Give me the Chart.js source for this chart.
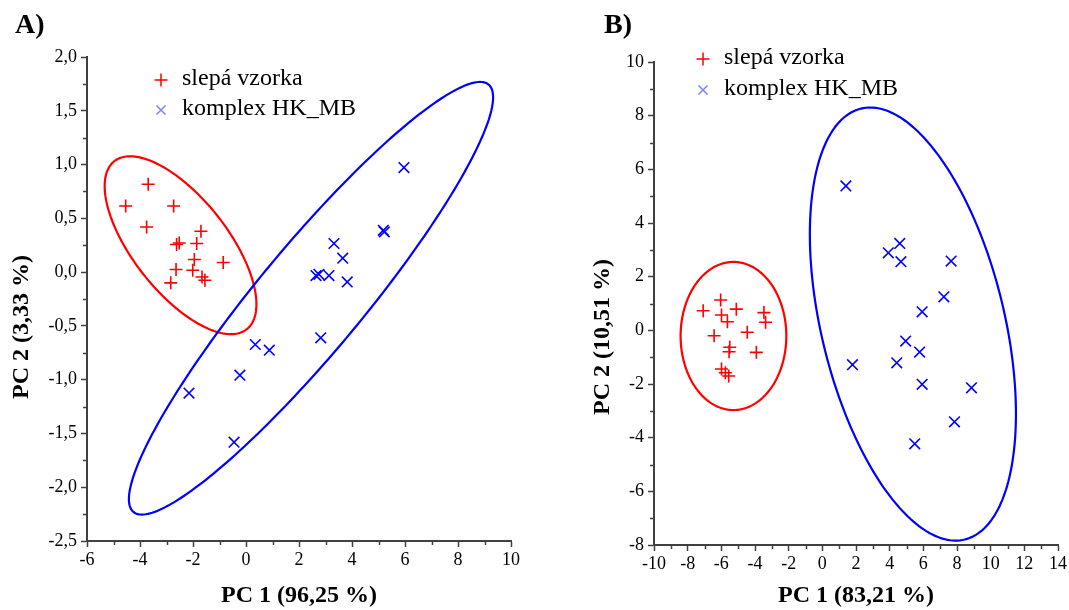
<!DOCTYPE html>
<html>
<head>
<meta charset="utf-8">
<script src="https://cdn.jsdelivr.net/npm/chart.js@4.4.1/dist/chart.umd.min.js"></script>
<style>
  html, body { margin: 0; padding: 0; background: #fff; }
  #wrap { position: relative; width: 1069px; height: 610px; overflow: hidden; }
  .panel { position: absolute; top: 0; height: 610px; }
  .lab { position: absolute; top: 8px; font: bold 28px "Liberation Serif", serif; color: #000; }
</style>
</head>
<body>
<div id="wrap">
  <div class="panel" style="left:0;width:535px"><canvas id="cA" width="535" height="610"></canvas></div>
  <div class="panel" style="left:535px;width:534px"><canvas id="cB" width="534" height="610"></canvas></div>
  <div class="lab" style="left:15px">A)</div>
  <div class="lab" style="left:604px">B)</div>
</div>
<script>
// ---------- data ----------
const seriesNames = ['slepá vzorka', 'komplex HK_MB'];

// Panel A
const slepaA_x = [-3.69, -4.54, -2.73, -3.75, -1.70, -2.62, -2.52, -1.86, -1.95, -0.86, -2.64, -2.01, -1.66, -1.55, -2.84];
const slepaA_y = [0.817, 0.615, 0.615, 0.420, 0.380, 0.257, 0.271, 0.266, 0.117, 0.089, 0.024, 0.018, -0.045, -0.075, -0.100];
const komplexA_x = [5.96, 5.18, 5.22, 3.32, 3.65, 2.64, 2.75, 3.13, 3.82, 2.82, 0.35, 0.88, -0.23, -2.15, -0.45];
const komplexA_y = [0.972, 0.389, 0.374, 0.266, 0.129, -0.032, -0.020, -0.032, -0.091, -0.611, -0.673, -0.726, -0.958, -1.125, -1.581];

// Panel B
const slepaB_x = [-6.04, -7.08, -5.11, -5.99, -5.64, -3.47, -3.37, -6.43, -4.46, -5.50, -5.54, -3.92, -5.99, -5.76, -5.56];
const slepaB_y = [1.13, 0.73, 0.79, 0.57, 0.32, 0.66, 0.30, -0.20, -0.07, -0.63, -0.80, -0.82, -1.44, -1.58, -1.70];
const komplexB_x = [1.40, 4.60, 3.92, 4.67, 7.65, 7.22, 5.93, 4.95, 5.78, 1.79, 4.42, 5.93, 8.86, 7.85, 5.49];
const komplexB_y = [5.38, 3.24, 2.89, 2.56, 2.58, 1.25, 0.69, -0.40, -0.81, -1.28, -1.21, -2.01, -2.14, -3.41, -4.23];

// Confidence ellipses in data units: [centerX, centerY, axis1X, axis1Y, axis2X, axis2Y]
const ellipseSlepaA   = [-2.47, 0.250, 2.50, -0.781, -1.396, -0.272];
const ellipseKomplexA = [2.453, -0.243, 6.70, 1.987, 1.528, -0.312];
const ellipseSlepaB   = [-5.28, -0.21, 3.14, 0, 0, 2.76];
const ellipseKomplexB = [5.38, 0.235, 3.08, -8.03, -5.29, -0.805];

// Axis ranges and major tick values
const xRangeA = [-6, 10], yRangeA = [-2.5, 2.0];
const xRangeB = [-10, 14], yRangeB = [-8, 10];
const xMajorA = [-6, -4, -2, 0, 2, 4, 6, 8, 10];
const yMajorA = [-2.5, -2.0, -1.5, -1.0, -0.5, 0.0, 0.5, 1.0, 1.5, 2.0];
const xMajorB = [-10, -8, -6, -4, -2, 0, 2, 4, 6, 8, 10, 12, 14];
const yMajorB = [-8, -6, -4, -2, 0, 2, 4, 6, 8, 10];
const xTitleA = 'PC 1 (96,25 %)', yTitleA = 'PC 2 (3,33 %)';
const xTitleB = 'PC 1 (83,21 %)', yTitleB = 'PC 2 (10,51 %)';

// ---------- rendering ----------
const RED = '#ff0000', BLUE = '#0000ff', AXIS = '#404040';
const SERIF = '"Liberation Serif", "Times New Roman", serif';
Chart.defaults.font.family = SERIF;
Chart.defaults.color = '#000';

function toPoints(xs, ys) { return xs.map((x, i) => ({ x: x, y: ys[i] })); }
function isIn(list, v) { return list.some(m => Math.abs(m - v) < 1e-6); }

const minorTicks = {
  id: 'minorTicks',
  afterDraw(chart) {
    const ctx = chart.ctx;
    ctx.save();
    ctx.strokeStyle = AXIS; ctx.lineWidth = 1.5;
    const xs = chart.scales.x, ys = chart.scales.y;
    const mx = chart.options.plugins.minorTicks;
    xs.ticks.forEach(t => {
      if (isIn(mx.xMajor, t.value)) return;
      const p = Math.round(xs.getPixelForValue(t.value)) + 0.5;
      ctx.beginPath(); ctx.moveTo(p, xs.top); ctx.lineTo(p, xs.top + 4); ctx.stroke();
    });
    ys.ticks.forEach(t => {
      if (isIn(mx.yMajor, t.value)) return;
      const p = Math.round(ys.getPixelForValue(t.value)) + 0.5;
      ctx.beginPath(); ctx.moveTo(ys.right, p); ctx.lineTo(ys.right - 4, p); ctx.stroke();
    });
    ctx.restore();
  }
};

const ellipses = {
  id: 'ellipses',
  beforeDatasetsDraw(chart) {
    const ctx = chart.ctx, xs = chart.scales.x, ys = chart.scales.y;
    const list = chart.options.plugins.ellipses.list;
    ctx.save();
    ctx.lineWidth = 2.2;
    list.forEach(e => {
      const [cx, cy, ux, uy, vx, vy] = e.p;
      ctx.strokeStyle = e.color;
      ctx.beginPath();
      const N = 240;
      for (let i = 0; i <= N; i++) {
        const t = 2 * Math.PI * i / N;
        const px = xs.getPixelForValue(cx + ux * Math.cos(t) + vx * Math.sin(t));
        const py = ys.getPixelForValue(cy + uy * Math.cos(t) + vy * Math.sin(t));
        if (i === 0) ctx.moveTo(px, py); else ctx.lineTo(px, py);
      }
      ctx.closePath();
      ctx.stroke();
    });
    ctx.restore();
  }
};

const customText = {
  id: 'customText',
  afterDraw(chart) {
    const o = chart.options.plugins.customText;
    const ctx = chart.ctx;
    ctx.save();
    // rotated y title
    ctx.font = 'bold 24px ' + SERIF;
    ctx.fillStyle = '#000';
    ctx.textAlign = 'center'; ctx.textBaseline = 'middle';
    ctx.translate(o.yTitleX, o.yTitleY);
    ctx.rotate(-Math.PI / 2);
    ctx.fillText(o.yTitle, 0, 0);
    ctx.setTransform(1, 0, 0, 1, 0, 0);
    // legend
    ctx.font = '24px ' + SERIF;
    ctx.textAlign = 'left';
    chart.data.datasets.forEach((ds, i) => {
      const y = o.legY + i * o.legGap;
      ctx.strokeStyle = i === 0 ? RED : '#8080ff';
      ctx.lineWidth = 1.5;
      ctx.beginPath();
      if (i === 0) {
        ctx.moveTo(o.legX - 6.5, y); ctx.lineTo(o.legX + 6.5, y);
        ctx.moveTo(o.legX, y - 6.5); ctx.lineTo(o.legX, y + 6.5);
      } else {
        ctx.moveTo(o.legX - 4.5, y - 4.5); ctx.lineTo(o.legX + 4.5, y + 4.5);
        ctx.moveTo(o.legX - 4.5, y + 4.5); ctx.lineTo(o.legX + 4.5, y - 4.5);
      }
      ctx.stroke();
      ctx.fillStyle = '#000';
      ctx.fillText(ds.label, o.legX + 21, y - 1);
    });
    ctx.restore();
  }
};

function makeChart(id, p) {
  const fmt = p.fmtY;
  return new Chart(document.getElementById(id), {
    type: 'scatter',
    data: {
      datasets: [
        { label: seriesNames[0], data: toPoints(p.sx, p.sy), pointStyle: 'cross', pointRadius: 6.5,
          pointHoverRadius: 6.5, borderColor: RED, backgroundColor: RED, pointBorderWidth: 1.6 },
        { label: seriesNames[1], data: toPoints(p.kx, p.ky), pointStyle: 'crossRot', pointRadius: 7.5,
          pointHoverRadius: 7.5, borderColor: BLUE, backgroundColor: BLUE, pointBorderWidth: 1.6 }
      ]
    },
    options: {
      responsive: false, animation: false, events: [],
      layout: { padding: { left: 0, top: p.top, right: p.right, bottom: 0 } },
      plugins: {
        legend: { display: false }, tooltip: { enabled: false },
        minorTicks: { xMajor: p.xMajor, yMajor: p.yMajor },
        ellipses: { list: p.ellipses },
        customText: p.text
      },
      scales: {
        x: {
          type: 'linear', min: p.xr[0], max: p.xr[1],
          ticks: { stepSize: 1, autoSkip: false, maxRotation: 0, padding: 2, color: '#000',
            font: { family: SERIF, size: 18 },
            callback: v => isIn(p.xMajor, v) ? String(v) : '' },
          grid: { drawOnChartArea: false, tickLength: 6, tickWidth: 1.5,
            tickColor: c => (c.tick && isIn(p.xMajor, c.tick.value)) ? AXIS : 'rgba(0,0,0,0)' },
          border: { color: AXIS, width: 2 },
          title: { display: true, text: p.xTitle, color: '#000', padding: { top: 0, bottom: 0 },
            font: { family: SERIF, size: 24, weight: 'bold' } },
          afterFit: s => { s.height = p.xh; }
        },
        y: {
          type: 'linear', min: p.yr[0], max: p.yr[1],
          ticks: { stepSize: p.yStep, autoSkip: false, padding: 4, color: '#000',
            font: { family: SERIF, size: 18 },
            callback: v => isIn(p.yMajor, v) ? fmt(v) : '' },
          grid: { drawOnChartArea: false, tickLength: 6, tickWidth: 1.5,
            tickColor: c => (c.tick && isIn(p.yMajor, c.tick.value)) ? AXIS : 'rgba(0,0,0,0)' },
          border: { color: AXIS, width: 2 },
          afterFit: s => { s.width = p.yw; }
        }
      }
    },
    plugins: [ellipses, minorTicks, customText]
  });
}

makeChart('cA', {
  sx: slepaA_x, sy: slepaA_y, kx: komplexA_x, ky: komplexA_y,
  xr: xRangeA, yr: yRangeA, xMajor: xMajorA, yMajor: yMajorA, yStep: 0.25,
  fmtY: v => v.toFixed(1).replace('.', ','),
  xTitle: xTitleA, top: 57, right: 24, yw: 87, xh: 69,
  ellipses: [{ p: ellipseSlepaA, color: RED }, { p: ellipseKomplexA, color: BLUE }],
  text: { yTitle: yTitleA, yTitleX: 22, yTitleY: 327, legX: 161, legY: 80, legGap: 30 }
});

makeChart('cB', {
  sx: slepaB_x, sy: slepaB_y, kx: komplexB_x, ky: komplexB_y,
  xr: xRangeB, yr: yRangeB, xMajor: xMajorB, yMajor: yMajorB, yStep: 1,
  fmtY: v => String(v),
  xTitle: xTitleB, top: 62, right: 9, yw: 119, xh: 65,
  ellipses: [{ p: ellipseSlepaB, color: RED }, { p: ellipseKomplexB, color: BLUE }],
  text: { yTitle: yTitleB, yTitleX: 68, yTitleY: 337, legX: 168, legY: 59, legGap: 31 }
});
</script>
</body>
</html>
